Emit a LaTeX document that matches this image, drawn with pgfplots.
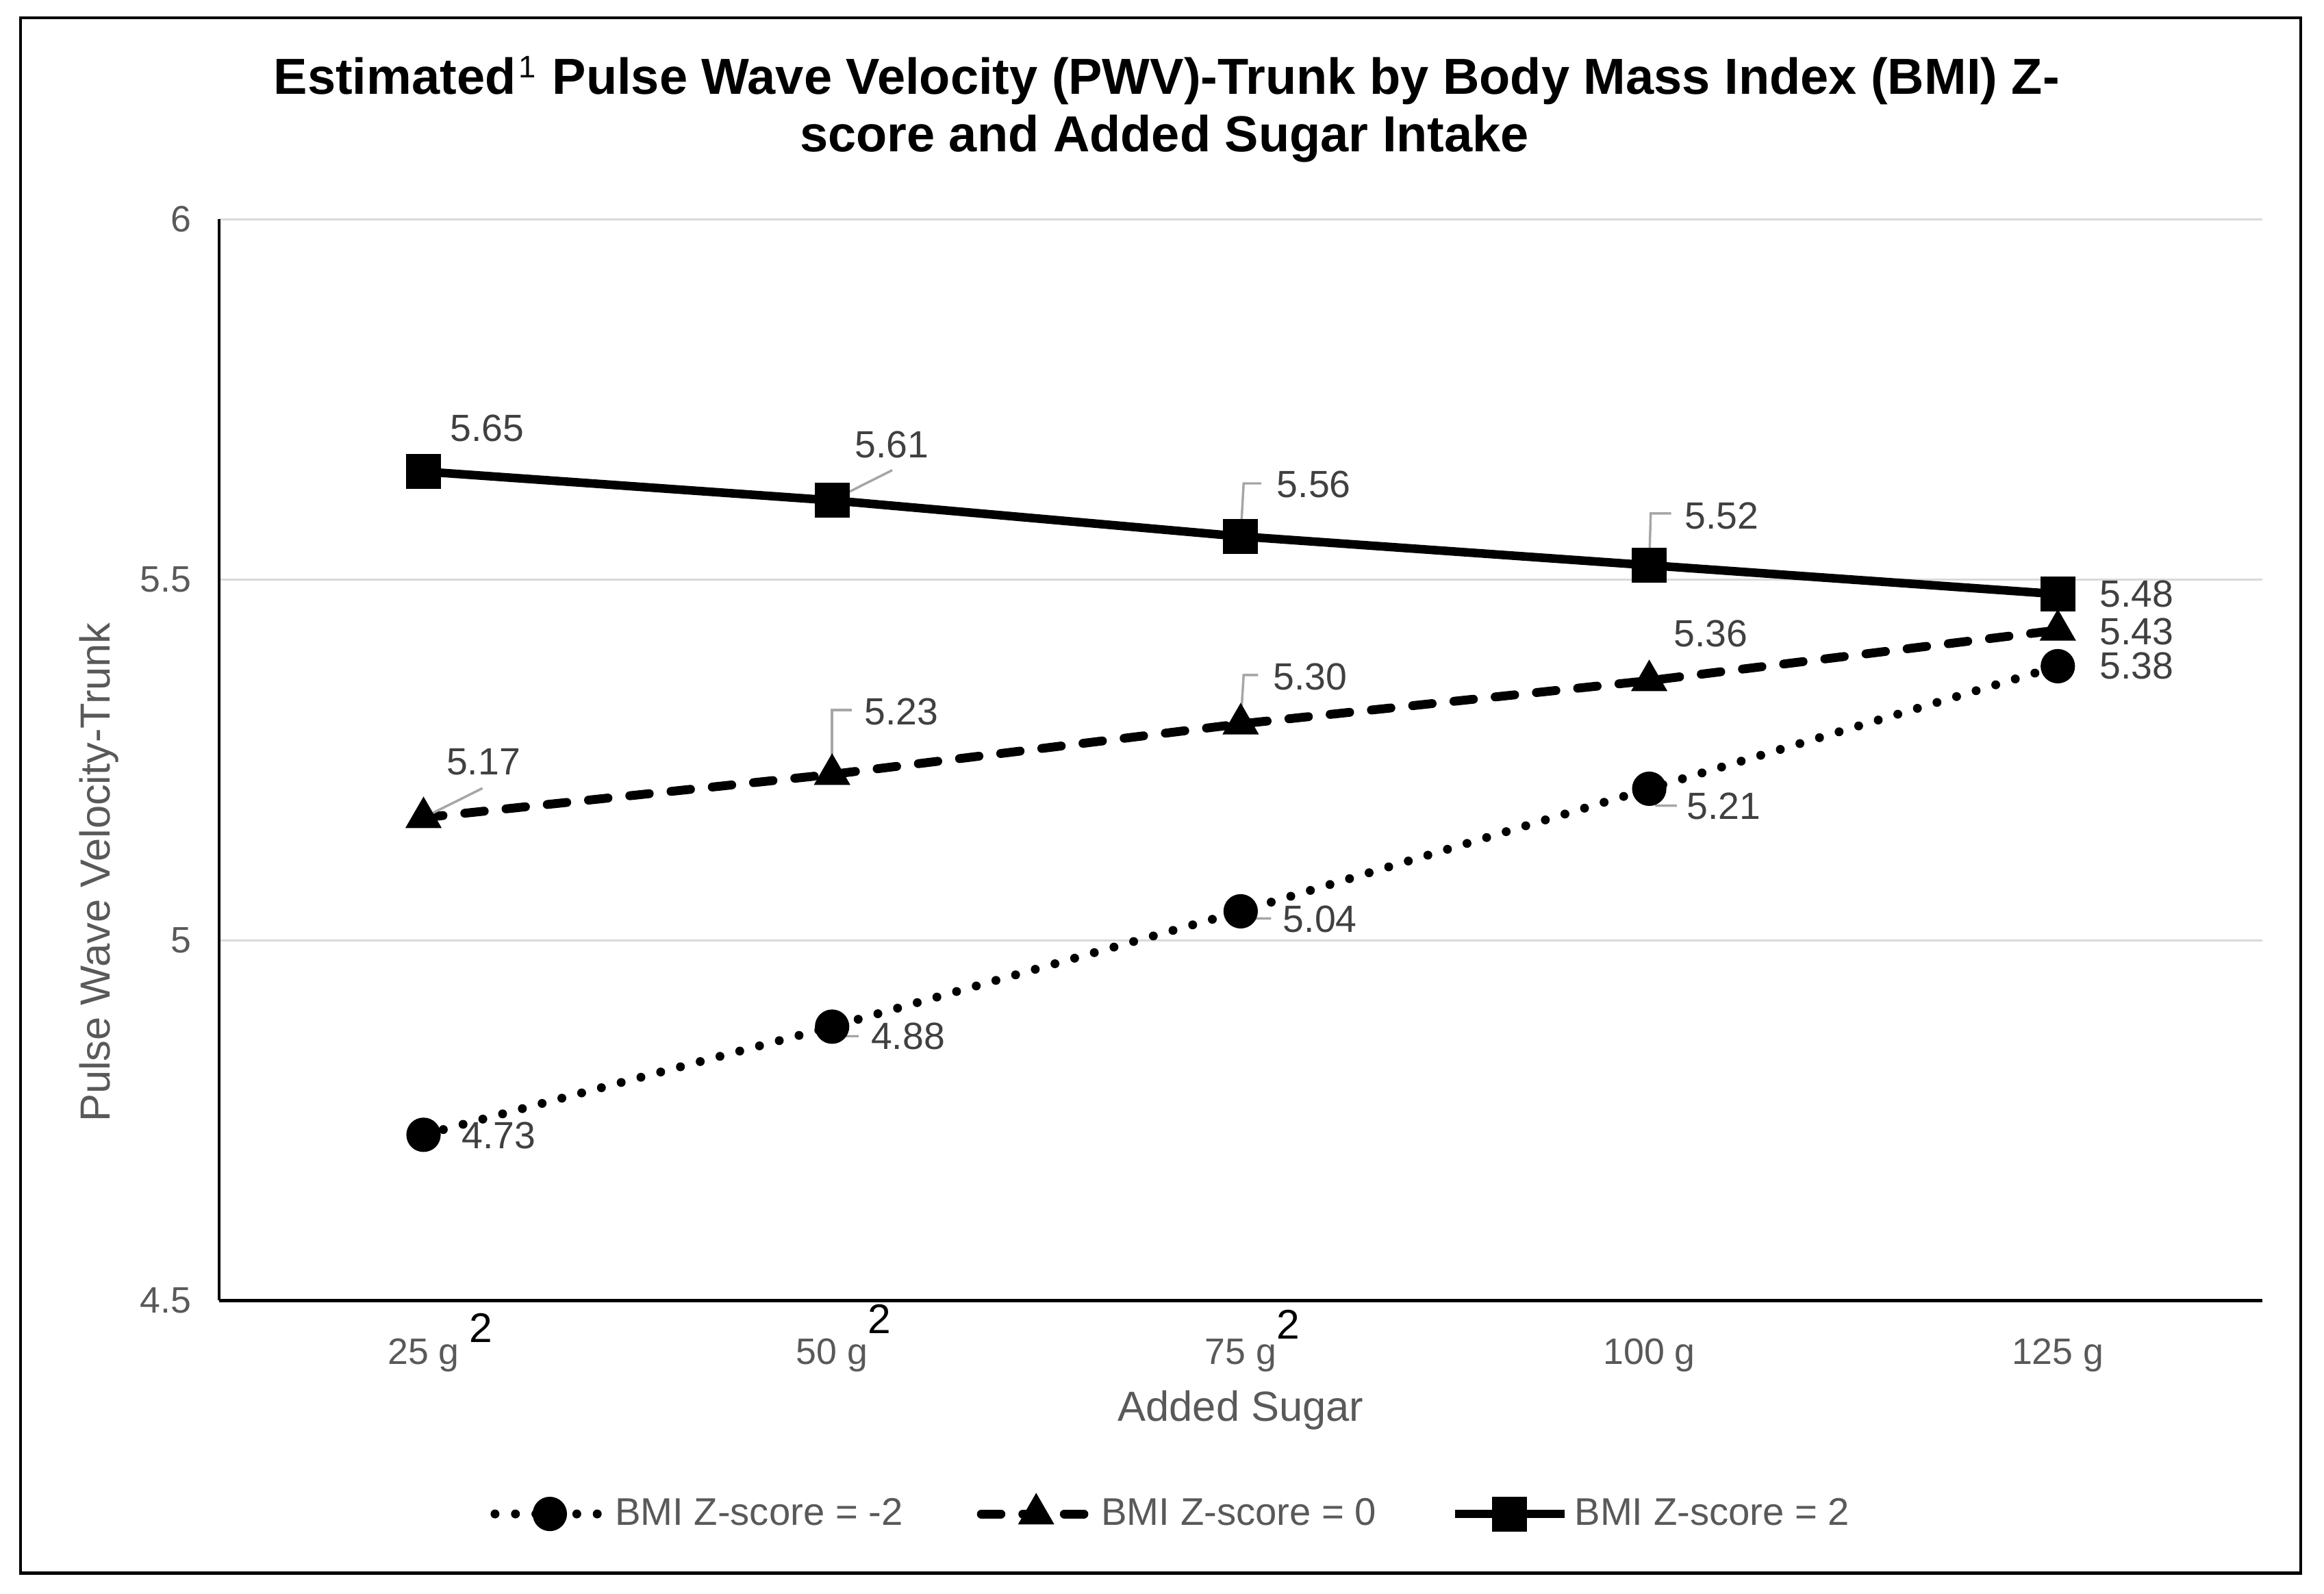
\documentclass[border=0pt]{standalone}
\usepackage{pgfplots}
\pgfplotsset{compat=1.18}
\usepackage{fontspec}
\setmainfont{Liberation Sans}
\definecolor{txtgray}{HTML}{595959}
\definecolor{lblgray}{HTML}{404040}
\definecolor{leadgray}{HTML}{A6A6A6}
\definecolor{gridgray}{HTML}{D9D9D9}
\newcommand{\suptwo}[2]{\rlap{\hspace{#1}\smash{\raisebox{#2}{\color{black}\fontsize{14}{14}\selectfont 2}}}}
\begin{document}
\begin{tikzpicture}[
  lbl/.style={font=\fontsize{12.8}{14}\selectfont, text=lblgray, inner sep=0pt, anchor=center},
  lead/.style={leadgray, line width=0.8pt},
]
\useasboundingbox (0,0) rectangle (784.4pt,538pt);
\draw[line width=1pt] (7pt,7pt) rectangle (776.5pt,532pt);
\node[anchor=base, inner sep=0pt, font=\fontsize{17.1}{21}\selectfont\bfseries] at (393.75pt,506.2pt) {Estimated\hspace{1pt}\raisebox{5.5pt}{\fontsize{10.5}{10.5}\selectfont\mdseries 1}\hspace{5.5pt}Pulse Wave Velocity (PWV)-Trunk by Body Mass Index (BMI) Z-};
\node[anchor=base, inner sep=0pt, font=\fontsize{17.1}{21}\selectfont\bfseries] at (393pt,486.7pt) {score and Added Sugar Intake};
\begin{axis}[
  at={(74pt,99pt)}, anchor=south west,
  scale only axis, width=689.5pt, height=365pt,
  xmin=-0.5, xmax=4.5, ymin=4.5, ymax=6,
  clip=false,
  xtick={0,1,2,3,4},
  xticklabels={{25 g\suptwo{3.5pt}{7.5pt}},{50 g\suptwo{0pt}{10.5pt}},{75 g\suptwo{0pt}{8.5pt}},{100 g},{125 g}},
  ytick={4.5,5,5.5,6},
  yticklabels={4.5,5,5.5,6},
  axis x line=bottom, axis y line=left,
  axis line style={-, black, line width=1pt},
  major tick length=0pt,
  ymajorgrids, grid style={gridgray, line width=0.7pt},
  /pgf/number format/assume math mode=true,
  xticklabel style={font=\fontsize{12.4}{14}\selectfont, text=txtgray, yshift=-9.4pt},
  yticklabel style={font=\fontsize{12.4}{14}\selectfont, text=txtgray, xshift=-5.9pt},
  xlabel={Added Sugar},
  ylabel={Pulse Wave Velocity-Trunk},
  xlabel style={font=\fontsize{14.2}{16}\selectfont, text=txtgray, at={(axis description cs:0.5,-0.1014)}, anchor=center},
  ylabel style={font=\fontsize{14.2}{16}\selectfont, text=txtgray, at={(axis description cs:-0.0587,0.396)}, anchor=center},
  legend style={at={(0.4669,-0.1973)}, anchor=center, draw=none, fill=none, legend columns=3,
    font=\fontsize{13}{15}\selectfont, text=txtgray,
    /tikz/every even column/.append style={column sep=23pt}},
  legend cell align=left,
  legend image code/.code={\draw[mark repeat=2,mark phase=2] plot coordinates {(0pt,0pt) (18.5pt,0pt) (37pt,0pt)};},
]
\addplot[black, line width=3pt, line cap=round, dash pattern=on 0pt off 6.9pt,
  mark=*, mark size=5.6pt, mark options={solid, line width=0.4pt}]
  coordinates {(0,4.73) (1,4.88) (2,5.04) (3,5.21) (4,5.38)};
\addlegendentry{BMI Z-score = -2}
\addplot[black, line width=3pt, line cap=round, dash pattern=on 6.6pt off 7.4pt,
  mark=triangle*, mark size=6.7pt, mark options={solid, line width=0.4pt}]
  coordinates {(0,5.17) (1,5.23) (2,5.30) (3,5.36) (4,5.43)};
\addlegendentry{BMI Z-score = 0}
\addplot[black, line width=2.9pt,
  mark=square*, mark size=5.7pt, mark options={solid, line width=0.4pt}]
  coordinates {(0,5.65) (1,5.61) (2,5.56) (3,5.52) (4,5.48)};
\addlegendentry{BMI Z-score = 2}

% leader lines
\draw[lead] (axis cs:1,5.61) -- ([xshift=20.3pt,yshift=10.2pt]axis cs:1,5.61);
\draw[lead] (axis cs:2,5.56) -- ([xshift=1pt,yshift=17.9pt]axis cs:2,5.56) -- ([xshift=7pt,yshift=17.9pt]axis cs:2,5.56);
\draw[lead] (axis cs:3,5.52) -- ([xshift=0.5pt,yshift=17.5pt]axis cs:3,5.52) -- ([xshift=7.4pt,yshift=17.5pt]axis cs:3,5.52);
\draw[lead] (axis cs:0,5.17) -- ([xshift=19.9pt,yshift=9.9pt]axis cs:0,5.17);
\draw[lead] (axis cs:1,5.23) -- ([xshift=0pt,yshift=21.7pt]axis cs:1,5.23) -- ([xshift=6.6pt,yshift=21.7pt]axis cs:1,5.23);
\draw[lead] (axis cs:2,5.30) -- ([xshift=1pt,yshift=16.5pt]axis cs:2,5.30) -- ([xshift=5.9pt,yshift=16.5pt]axis cs:2,5.30);
\draw[lead] (axis cs:1,4.88) -- ([xshift=3.5pt,yshift=-3.2pt]axis cs:1,4.88) -- ([xshift=9pt,yshift=-3.2pt]axis cs:1,4.88);
\draw[lead] (axis cs:2,5.04) -- ([xshift=3.6pt,yshift=-2.4pt]axis cs:2,5.04) -- ([xshift=10.3pt,yshift=-2.4pt]axis cs:2,5.04);
\draw[lead] (axis cs:3,5.21) -- ([xshift=2.4pt,yshift=-5.7pt]axis cs:3,5.21) -- ([xshift=9.3pt,yshift=-5.7pt]axis cs:3,5.21);

% data labels
\node[lbl, xshift=21.5pt, yshift=14.7pt] at (axis cs:0,5.65) {5.65};
\node[lbl, xshift=20.1pt, yshift=18.8pt] at (axis cs:1,5.61) {5.61};
\node[lbl, xshift=24.7pt, yshift=17.6pt] at (axis cs:2,5.56) {5.56};
\node[lbl, xshift=24.5pt, yshift=16.7pt] at (axis cs:3,5.52) {5.52};
\node[lbl, xshift=26.6pt, yshift=0pt] at (axis cs:4,5.48) {5.48};
\node[lbl, xshift=20.2pt, yshift=18.7pt] at (axis cs:0,5.17) {5.17};
\node[lbl, xshift=23.4pt, yshift=21.2pt] at (axis cs:1,5.23) {5.23};
\node[lbl, xshift=23.5pt, yshift=16pt] at (axis cs:2,5.30) {5.30};
\node[lbl, xshift=20.8pt, yshift=15.8pt] at (axis cs:3,5.36) {5.36};
\node[lbl, xshift=26.6pt, yshift=-0.6pt] at (axis cs:4,5.43) {5.43};
\node[lbl, xshift=25.4pt, yshift=-0.3pt] at (axis cs:0,4.73) {4.73};
\node[lbl, xshift=25.6pt, yshift=-3.2pt] at (axis cs:1,4.88) {4.88};
\node[lbl, xshift=26.8pt, yshift=-2.7pt] at (axis cs:2,5.04) {5.04};
\node[lbl, xshift=25.2pt, yshift=-6pt] at (axis cs:3,5.21) {5.21};
\node[lbl, xshift=26.6pt, yshift=0.2pt] at (axis cs:4,5.38) {5.38};
\end{axis}
\end{tikzpicture}
\end{document}
